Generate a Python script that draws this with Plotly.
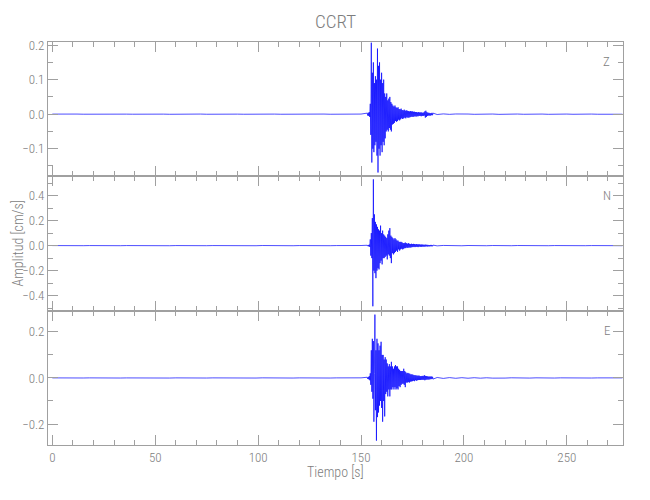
import numpy as np
import plotly.graph_objects as go
from plotly.subplots import make_subplots

# ---------------- data ----------------
station = "CCRT"
components = ["Z", "N", "E"]
x_title = "Tiempo [s]"
y_title = "Amplitud [cm/s]"

# sampling grids (s)
pre_times = np.arange(0.0, 151.0, 3.0)      # 51 samples, 0 .. 150
active_start = 153.0
active_step = 0.25                          # 129 samples, 153 .. 185
post_times = np.arange(187.0, 278.0, 3.0)   # 31 samples, 187 .. 277

# ---- Z component (cm/s)
z_pre = [0.0002, -0.0003, 0.0001, -0.0002, 0.0003, -0.0001, 0.0002, -0.0003, 0.0001, -0.0002,
         0.0003, -0.0002, 0.0001, -0.0001, 0.0003, -0.0002, 0.0002, -0.0001, 0.0001, -0.0003,
         0.0002, -0.0002, 0.0001, -0.0003, 0.0003, -0.0002, 0.0002, -0.0001, 0.0002, -0.0003,
         0.0001, -0.0002, 0.0002, -0.0003, 0.0003, -0.0002, 0.0002, -0.0002, 0.0001, -0.0003,
         0.0002, -0.0003, 0.0002, -0.0002, 0.0003, -0.0002, 0.0002, -0.0003, 0.0002, -0.0002,
         0.0003]
z_active = [0.003, -0.004, 0.004, -0.005, 0.006, -0.008, 0.03, -0.06, 0.207, -0.14,
            0.12, -0.10, 0.15, -0.11, 0.09, -0.09, 0.11, -0.08, 0.10, -0.12,
            0.19, -0.169, 0.14, -0.10, 0.15, -0.12, 0.10, -0.09, 0.12, -0.11,
            0.09, -0.08, 0.10, -0.09, 0.06, -0.07, 0.05, -0.05, 0.06, -0.045,
            0.04, -0.05, 0.045, -0.04, 0.05, -0.045, 0.035, -0.05, 0.03, -0.03,
            0.025, -0.028, 0.022, -0.025, 0.025, -0.02, 0.02, -0.022, 0.018, -0.02,
            0.02, -0.016, 0.015, -0.018, 0.014, -0.015, 0.016, -0.012, 0.012, -0.014,
            0.011, -0.012, 0.013, -0.01, 0.01, -0.012, 0.011, -0.009, 0.01, -0.01,
            0.009, -0.01, 0.008, -0.009, 0.009, -0.008, 0.008, -0.007, 0.008, -0.008,
            0.007, -0.007, 0.007, -0.006, 0.006, -0.007, 0.006, -0.006, 0.005, -0.006,
            0.006, -0.005, 0.005, -0.005, 0.005, -0.006, 0.005, -0.005, 0.004, -0.005,
            0.005, -0.004, 0.008, -0.01, 0.01, -0.008, 0.006, -0.005, 0.004, -0.004,
            0.004, -0.004, 0.003, -0.004, 0.003, -0.003, 0.004, -0.003, 0.003]
z_post = [-0.001, 0.0008, -0.0005, 0.0006, -0.0005, 0.0004, -0.0004, 0.0005, -0.0004, 0.0004,
          -0.0005, 0.0004, -0.0003, 0.0004, -0.0003, 0.0003, -0.0003, 0.0003, -0.0004, 0.0003,
          -0.0003, 0.0003, -0.0003, 0.0003, -0.0003, 0.0003, -0.0002, 0.0003, -0.0002, 0.0002,
          -0.0002]

# ---- N component (cm/s)
n_pre = [0.0005, -0.0008, 0.0004, -0.0005, 0.0008, -0.0004, 0.0005, -0.0008, 0.0004, -0.0005,
         0.0008, -0.0005, 0.0004, -0.0004, 0.0008, -0.0005, 0.0005, -0.0004, 0.0004, -0.0008,
         0.0005, -0.0005, 0.0004, -0.0008, 0.0008, -0.0005, 0.0005, -0.0004, 0.0005, -0.0008,
         0.0004, -0.0005, 0.0005, -0.0008, 0.0008, -0.0005, 0.0005, -0.0005, 0.0004, -0.0008,
         0.0005, -0.0008, 0.0005, -0.0005, 0.0008, -0.0005, 0.0005, -0.0008, 0.0005, -0.0005,
         0.0008]
n_active = [0.003, -0.004, 0.005, -0.006, 0.008, -0.01, 0.05, -0.08, 0.10, -0.10,
            0.22, -0.485, 0.53, -0.20, 0.25, -0.22, 0.19, -0.26, 0.17, -0.20,
            0.15, -0.18, 0.13, -0.19, 0.12, -0.14, 0.16, -0.12, 0.10, -0.15,
            0.12, -0.10, 0.09, -0.10, 0.08, -0.09, 0.07, -0.08, 0.06, -0.11,
            0.09, -0.07, 0.12, -0.08, 0.14, -0.10, 0.08, -0.14, 0.07, -0.06,
            0.06, -0.07, 0.05, -0.06, 0.06, -0.05, 0.05, -0.04, 0.04, -0.05,
            0.04, -0.03, 0.03, -0.04, 0.03, -0.03, 0.03, -0.025, 0.025, -0.03,
            0.02, -0.025, 0.02, -0.02, 0.025, -0.02, 0.02, -0.015, 0.015, -0.018,
            0.02, -0.015, 0.015, -0.015, 0.012, -0.015, 0.015, -0.012, 0.012, -0.012,
            0.014, -0.01, 0.012, -0.012, 0.01, -0.01, 0.012, -0.01, 0.01, -0.012,
            0.01, -0.008, 0.01, -0.009, 0.008, -0.01, 0.009, -0.008, 0.008, -0.008,
            0.007, -0.008, 0.007, -0.007, 0.008, -0.006, 0.006, -0.007, 0.006, -0.006,
            0.005, -0.006, 0.005, -0.005, 0.006, -0.005, 0.005, -0.005, 0.004]
n_post = [-0.002, 0.0015, -0.0012, 0.0012, -0.001, 0.001, -0.001, 0.001, -0.0008, 0.0008,
          -0.0008, 0.0008, -0.0006, 0.0008, -0.0006, 0.0006, -0.0006, 0.0006, -0.0006, 0.0006,
          -0.0005, 0.0006, -0.0005, 0.0006, -0.0005, 0.0005, -0.0005, 0.0005, -0.0005, 0.0005,
          -0.0005]

# ---- E component (cm/s)
e_pre = [0.0003, -0.0004, 0.0002, -0.0003, 0.0004, -0.0002, 0.0003, -0.0004, 0.0002, -0.0003,
         0.0004, -0.0003, 0.0002, -0.0002, 0.0004, -0.0003, 0.0003, -0.0002, 0.0002, -0.0004,
         0.0003, -0.0003, 0.0002, -0.0004, 0.0004, -0.0003, 0.0003, -0.0002, 0.0003, -0.0004,
         0.0002, -0.0003, 0.0003, -0.0004, 0.0004, -0.0003, 0.0003, -0.0003, 0.0002, -0.0004,
         0.0003, -0.0004, 0.0003, -0.0003, 0.0004, -0.0003, 0.0003, -0.0004, 0.0003, -0.0003,
         0.0004]
e_active = [0.003, -0.004, 0.004, -0.006, 0.008, -0.01, 0.02, -0.03, 0.12, -0.06,
            0.17, -0.09, 0.16, -0.19, 0.02, 0.275, -0.14, 0.12, -0.272, 0.17,
            -0.17, 0.15, -0.15, 0.12, -0.12, 0.14, -0.10, 0.157, -0.13, 0.10,
            -0.19, 0.10, -0.10, 0.08, -0.167, 0.09, -0.07, 0.08, -0.06, 0.063,
            -0.08, 0.05, -0.05, 0.06, -0.08, 0.05, -0.05, 0.07, -0.05, 0.05,
            -0.04, 0.04, -0.05, 0.05, -0.04, 0.056, -0.05, 0.05, -0.045, 0.05,
            -0.05, 0.04, -0.035, 0.035, -0.04, 0.03, -0.03, 0.03, -0.025, 0.03,
            -0.025, 0.04, -0.03, 0.03, -0.04, 0.025, -0.02, 0.02, -0.02, 0.022,
            -0.018, 0.02, -0.02, 0.018, -0.016, 0.015, -0.015, 0.016, -0.014, 0.014,
            -0.012, 0.012, -0.014, 0.012, -0.01, 0.011, -0.012, 0.01, -0.01, 0.01,
            -0.009, 0.01, -0.009, 0.008, -0.009, 0.008, -0.008, 0.009, -0.008, 0.008,
            -0.008, 0.012, -0.01, 0.009, -0.008, 0.008, -0.007, 0.007, -0.007, 0.006,
            -0.007, 0.006, -0.006, 0.006, -0.005, 0.006, -0.005, 0.005, -0.005]
e_post = [0.002, -0.002, 0.0015, -0.0015, 0.0012, -0.0012, 0.001, -0.001, 0.0008, -0.0008,
          0.0008, -0.0006, 0.0006, -0.0006, 0.0005, -0.0005, 0.0005, -0.0005, 0.0004, -0.0004,
          0.0004, -0.0004, 0.0004, -0.0004, 0.0003, -0.0003, 0.0003, -0.0003, 0.0003, -0.0003,
          0.0003]

# axis settings per component
y_ranges = {"Z": [-0.180, 0.209], "N": [-0.52, 0.554], "E": [-0.291, 0.292]}
y_dtick = {"Z": 0.1, "N": 0.2, "E": 0.2}
y_minor = {"Z": 0.05, "N": 0.1, "E": 0.1}
x_range = [-2.1, 277.3]

traces = {
    "Z": (z_pre, z_active, z_post),
    "N": (n_pre, n_active, n_post),
    "E": (e_pre, e_active, e_post),
}

# ---------------- figure ----------------
FONT = "'Roboto Condensed', 'Liberation Sans Narrow', 'DejaVu Sans Condensed', sans-serif"
AX = "rgb(160,160,160)"
TXT = "rgb(125,125,125)"

fig = make_subplots(rows=3, cols=1, shared_xaxes=True, vertical_spacing=0)

for row, comp in enumerate(components, start=1):
    pre, act, post = traces[comp]
    t_act = active_start + active_step * np.arange(len(act))
    t = np.concatenate([pre_times, t_act, post_times])
    v = np.concatenate([pre, act, post])
    fig.add_trace(go.Scatter(x=t, y=v, mode="lines",
                             line=dict(color="rgb(0,0,255)", width=0.7),
                             hoverinfo="skip"), row=row, col=1)
    fig.update_yaxes(range=y_ranges[comp], dtick=y_dtick[comp], tick0=0,
                     tickformat=".1f", ticks="inside", ticklen=10, tickcolor=AX,
                     minor=dict(dtick=y_minor[comp], tick0=0, ticks="inside",
                                ticklen=5, tickcolor=AX),
                     showline=True, linecolor=AX, linewidth=1, mirror="allticks",
                     showgrid=False, zeroline=False, automargin=False,
                     tickfont=dict(family=FONT, size=13, color=TXT, weight=300),
                     row=row, col=1)
    fig.update_xaxes(range=x_range, dtick=50, tick0=0, ticks="inside", ticklen=10,
                     tickcolor=AX,
                     minor=dict(dtick=10, tick0=0, ticks="inside", ticklen=5,
                                tickcolor=AX),
                     showline=True, linecolor=AX, linewidth=1, mirror="allticks",
                     showgrid=False, zeroline=False, automargin=False,
                     tickfont=dict(family=FONT, size=13, color=TXT, weight=300),
                     row=row, col=1)
    xr = "x" if row == 1 else f"x{row}"
    yr = "y" if row == 1 else f"y{row}"
    fig.add_annotation(text=comp, xref=f"{xr} domain", yref=f"{yr} domain",
                       x=0.972, y=0.855, showarrow=False,
                       xanchor="center", yanchor="middle",
                       font=dict(family=FONT, size=13, color=TXT, weight=300))

fig.add_annotation(text=station, xref="paper", yref="paper", x=0.5, y=1.0,
                   yshift=21, showarrow=False, xanchor="center", yanchor="middle",
                   borderpad=0,
                   font=dict(family=FONT, size=19, color=TXT, weight=300))
fig.add_annotation(text=x_title, xref="paper", yref="paper", x=0.5, y=0,
                   yshift=-27, showarrow=False, xanchor="center", yanchor="middle",
                   font=dict(family=FONT, size=14, color=TXT, weight=300))
fig.add_annotation(text=y_title, xref="paper", yref="paper", x=0, y=0.5,
                   xshift=-31, textangle=-90, showarrow=False,
                   xanchor="center", yanchor="middle", borderpad=0,
                   font=dict(family=FONT, size=14, color=TXT, weight=300))

# the page adds an 8 px body margin, so the figure is made 8 px smaller
fig.update_layout(width=642, height=492,
                  margin=dict(l=40, r=27, t=34, b=55, autoexpand=False),
                  plot_bgcolor="white", paper_bgcolor="white",
                  showlegend=False)

fig.write_html("out.html")
